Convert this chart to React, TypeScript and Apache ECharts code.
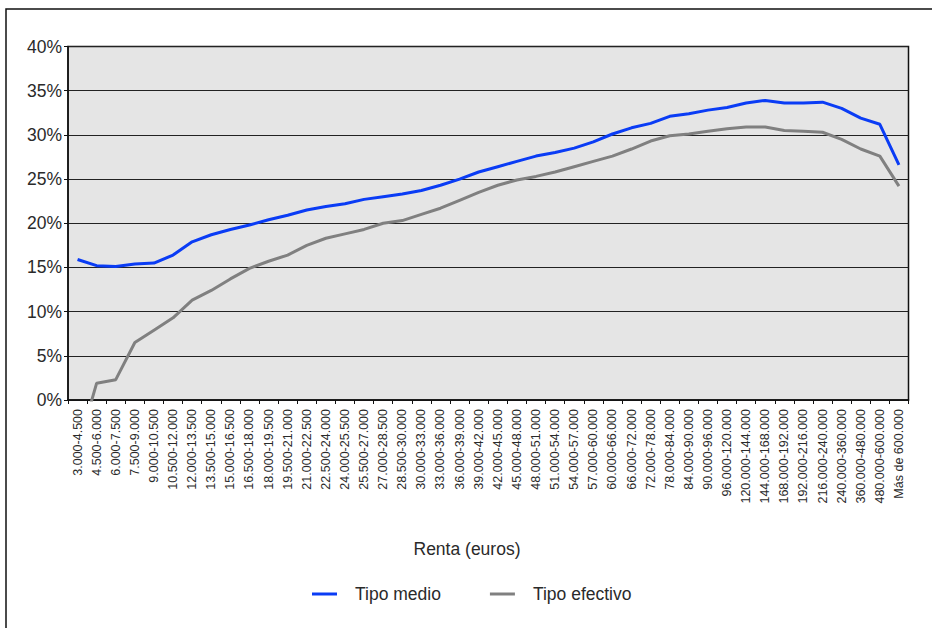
import React, { useEffect, useRef } from "react";
import * as echarts from "echarts";

const categories = [
  "3.000-4.500", "4.500-6.000", "6.000-7.500", "7.500-9.000", "9.000-10.500",
  "10.500-12.000", "12.000-13.500", "13.500-15.000", "15.000-16.500", "16.500-18.000",
  "18.000-19.500", "19.500-21.000", "21.000-22.500", "22.500-24.000", "24.000-25.500",
  "25.500-27.000", "27.000-28.500", "28.500-30.000", "30.000-33.000", "33.000-36.000",
  "36.000-39.000", "39.000-42.000", "42.000-45.000", "45.000-48.000", "48.000-51.000",
  "51.000-54.000", "54.000-57.000", "57.000-60.000", "60.000-66.000", "66.000-72.000",
  "72.000-78.000", "78.000-84.000", "84.000-90.000", "90.000-96.000", "96.000-120.000",
  "120.000-144.000", "144.000-168.000", "168.000-192.000", "192.000-216.000", "216.000-240.000",
  "240.000-360.000", "360.000-480.000", "480.000-600.000", "Más de 600.000",
];

// Tipo medio (%)
const tipoMedio = [
  15.9, 15.2, 15.1, 15.4, 15.5, 16.4, 17.9, 18.7, 19.3, 19.8,
  20.4, 20.9, 21.5, 21.9, 22.2, 22.7, 23.0, 23.3, 23.7, 24.3,
  25.0, 25.8, 26.4, 27.0, 27.6, 28.0, 28.5, 29.2, 30.1, 30.8,
  31.3, 32.1, 32.4, 32.8, 33.1, 33.6, 33.9, 33.6, 33.6, 33.7,
  33.0, 31.9, 31.2, 26.6,
];

// Tipo efectivo (%)
const tipoEfectivo = [
  -5.6, 1.9, 2.3, 6.5, 7.9, 9.3, 11.3, 12.4, 13.7, 14.9,
  15.7, 16.4, 17.5, 18.3, 18.8, 19.3, 20.0, 20.3, 21.0, 21.7,
  22.6, 23.5, 24.3, 24.9, 25.3, 25.8, 26.4, 27.0, 27.6, 28.4,
  29.3, 29.9, 30.1, 30.4, 30.7, 30.9, 30.9, 30.5, 30.4, 30.3,
  29.5, 28.4, 27.6, 24.2,
];

const FONT = "'Liberation Sans', Arial, sans-serif";
const TEXT = "#2a2a2a";

export default function App() {
  const ref = useRef<HTMLDivElement>(null);

  useEffect(() => {
    document.body.style.margin = "0";
    if (!ref.current) return;
    const chart = echarts.init(ref.current, undefined, { renderer: "svg" });
    chart.setOption({
      animation: false,
      backgroundColor: "#ffffff",
      textStyle: { fontFamily: FONT },
      graphic: [
        {
          type: "rect",
          shape: { x: 6, y: 9, width: 1000, height: 1000 },
          style: { fill: "none", stroke: "#111", lineWidth: 1.5 },
          silent: true,
        },
        {
          type: "text",
          x: 467,
          y: 549,
          style: {
            text: "Renta (euros)",
            fontFamily: FONT,
            fontSize: 17.5,
            fill: TEXT,
            align: "center",
            verticalAlign: "middle",
          },
          silent: true,
        },
      ],
      grid: {
        left: 68,
        top: 46.5,
        right: 23.5,
        bottom: 228,
        show: true,
        backgroundColor: "#e5e5e5",
        borderColor: "#111",
        borderWidth: 1.5,
        containLabel: false,
      },
      legend: {
        left: 312,
        top: 585,
        padding: 0,
        itemWidth: 25,
        itemHeight: 3,
        itemGap: 49,
        icon: "rect",
        textStyle: {
          fontFamily: FONT,
          fontSize: 17.5,
          color: TEXT,
          padding: [0, 0, 0, 13],
        },
        data: ["Tipo medio", "Tipo efectivo"],
      },
      xAxis: {
        type: "category",
        data: categories,
        boundaryGap: true,
        axisLine: { show: true, lineStyle: { color: "#111", width: 1.5 } },
        axisTick: { show: true, length: 4, lineStyle: { color: "#111" } },
        axisLabel: {
          interval: 0,
          rotate: 90,
          margin: 9,
          fontSize: 12.5,
          color: TEXT,
          fontFamily: FONT,
        },
      },
      yAxis: {
        type: "value",
        min: 0,
        max: 40,
        interval: 5,
        axisLine: { show: true, lineStyle: { color: "#111", width: 1.5 } },
        axisTick: { show: true, length: 4, lineStyle: { color: "#111" } },
        axisLabel: {
          formatter: "{value}%",
          fontSize: 17.5,
          color: TEXT,
          margin: 6,
          fontFamily: FONT,
        },
        splitLine: { show: true, lineStyle: { color: "#222", width: 1.2 } },
      },
      series: [
        {
          name: "Tipo medio",
          type: "line",
          data: tipoMedio,
          showSymbol: false,
          symbol: "none",
          clip: true,
          color: "#0a3cf5",
          lineStyle: { color: "#0a3cf5", width: 3 },
        },
        {
          name: "Tipo efectivo",
          type: "line",
          data: tipoEfectivo,
          showSymbol: false,
          symbol: "none",
          clip: true,
          color: "#808080",
          lineStyle: { color: "#808080", width: 3 },
        },
      ],
    });
    return () => chart.dispose();
  }, []);

  return <div ref={ref} style={{ width: 932, height: 628 }} />;
}
